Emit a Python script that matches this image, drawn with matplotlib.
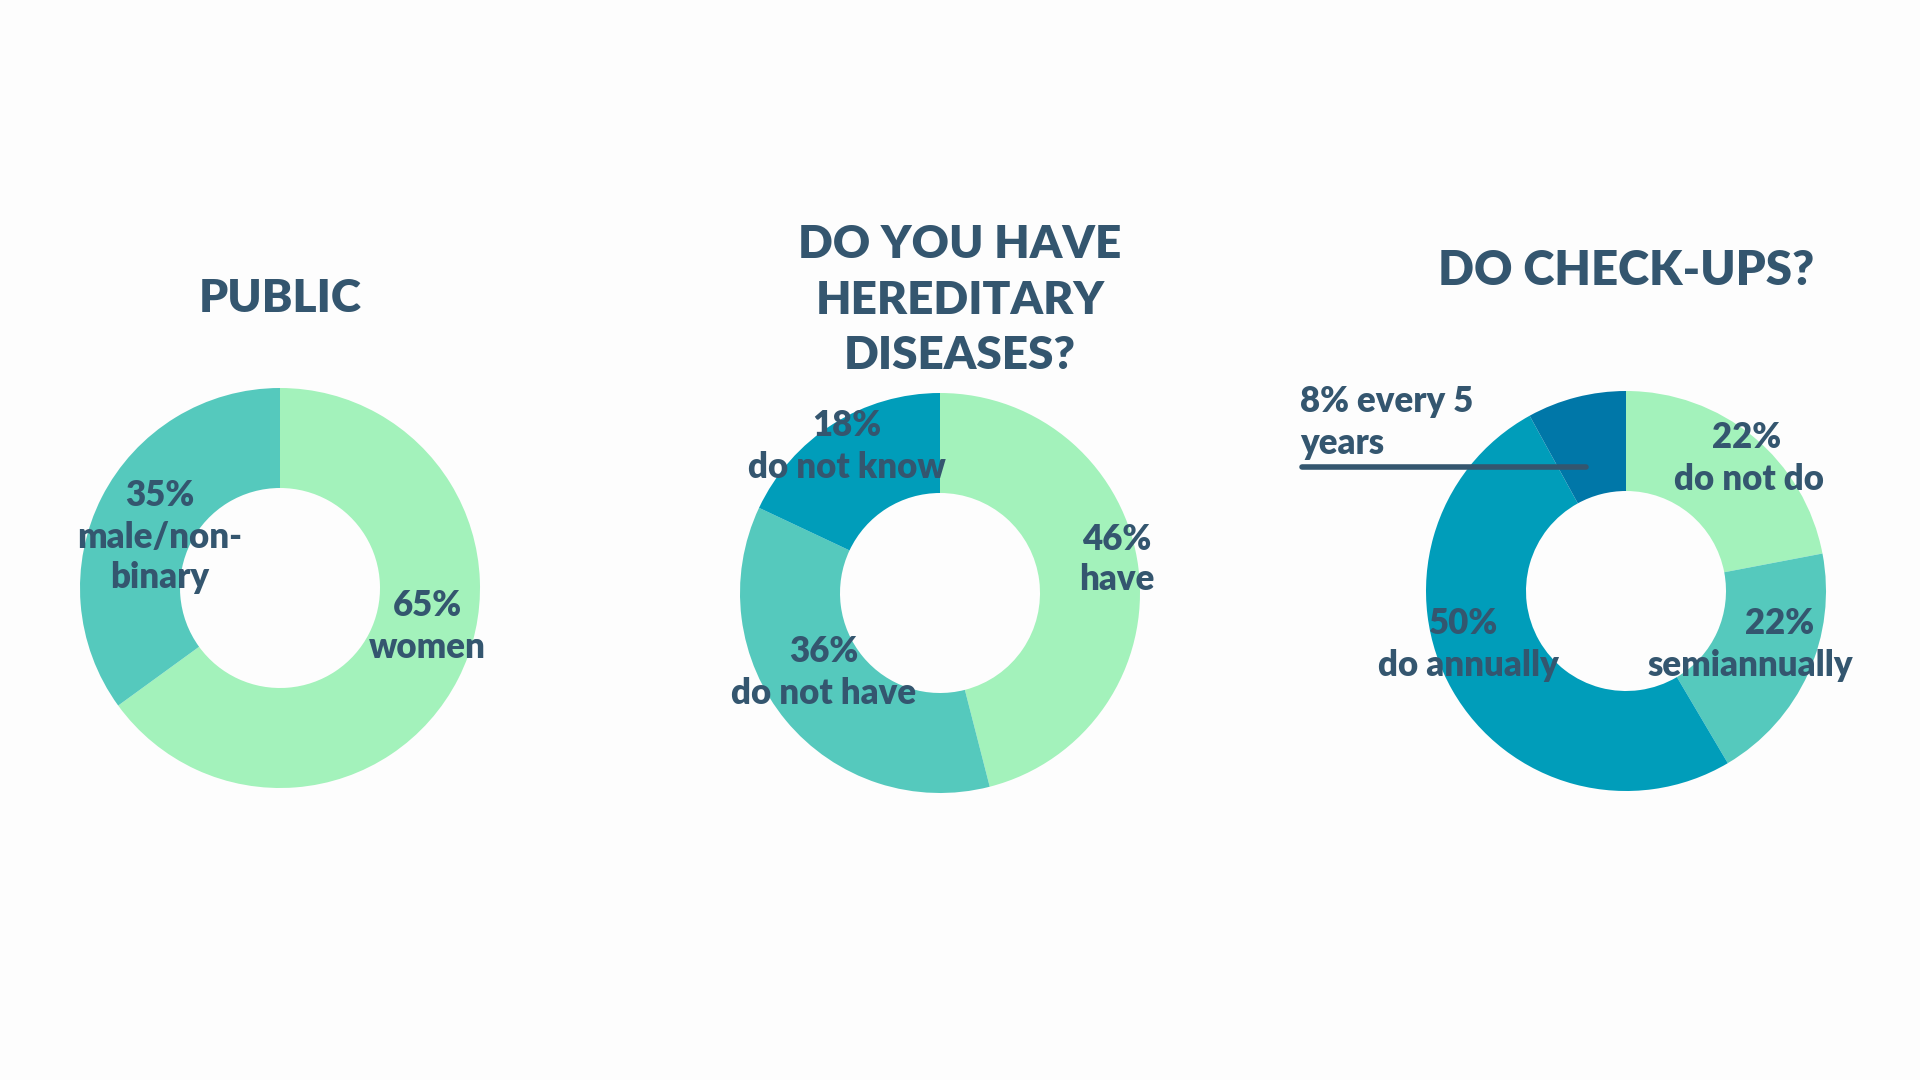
import matplotlib.pyplot as plt

# data
public_labels = ["women", "male/non-binary"]
public_values = [65, 35]

hereditary_labels = ["have", "do not have", "do not know"]
hereditary_values = [46, 36, 18]

checkup_labels = ["do not do", "semiannually", "do annually", "every 5 years"]
checkup_values = [22, 19.5, 50.5, 8]  # slice sizes as drawn
checkup_pct_text = ["22%", "22%", "50%", "8%"]

titles = ["PUBLIC", "DO YOU HAVE\nHEREDITARY\nDISEASES?", "DO CHECK-UPS?"]

GREEN = "#a3f2bb"
TEAL = "#55c9bd"
BLUE = "#009dba"
DARK_BLUE = "#0077a8"
TEXT = "#34566f"
BG = "#fdfdfd"

plt.rcParams['font.family'] = ['Lato', 'DejaVu Sans']

W, H = 1920, 1080
fig = plt.figure(figsize=(19.2, 10.8), dpi=100, facecolor=BG)
ax = fig.add_axes([0, 0, 1, 1])
ax.set_facecolor(BG)


def y(px):
    # picture rows -> data y
    return H - px


def donut(values, colors, cx, cy):
    ax.pie(values, colors=colors, startangle=90, counterclock=False,
           center=(cx, y(cy)), radius=200, frame=True,
           wedgeprops=dict(width=100, linewidth=0))


def label(x, py, s, size=25, ha='center'):
    ax.text(x, y(py), s, ha=ha, va='center', fontsize=size,
            fontweight='heavy', color=TEXT)


# PUBLIC
donut(public_values, [GREEN, TEAL], 280, 588)
ax.text(280, y(298), titles[0], ha='center', va='center', fontsize=33,
        fontweight='heavy', color=TEXT)
label(160, 495, "35%")
label(160, 538, "male/non-")
label(160, 578, "binary")
label(427, 605, "65%")
label(427, 647, public_labels[0])

# hereditary diseases
donut(hereditary_values, [GREEN, TEAL, BLUE], 940, 593)
ax.text(960, y(300), titles[1], ha='center', va='center', fontsize=33,
        fontweight='heavy', color=TEXT, linespacing=1.42)
label(847, 425, "%d%%" % hereditary_values[2])
label(847, 467, hereditary_labels[2])
label(1117, 539, "%d%%" % hereditary_values[0])
label(1117, 580, hereditary_labels[0])
label(824, 652, "%d%%" % hereditary_values[1])
label(824, 694, hereditary_labels[1])

# check-ups
donut(checkup_values, [GREEN, TEAL, BLUE, DARK_BLUE], 1626, 591)
ax.text(1626, y(271), titles[2], ha='center', va='center', fontsize=34,
        fontweight='heavy', color=TEXT)
label(1747, 437, checkup_pct_text[0])
label(1749, 479, checkup_labels[0])
label(1780, 623, checkup_pct_text[1])
label(1750, 666, checkup_labels[1])
label(1464, 623, checkup_pct_text[2])
label(1468, 666, checkup_labels[2])
label(1300, 402, "8% every 5", ha='left')
label(1300, 443, "years", ha='left')
ax.plot([1302, 1586], [y(467), y(467)], color=TEXT, linewidth=4,
        solid_capstyle='round')

ax.set_xlim(0, W)
ax.set_ylim(0, H)
ax.set_aspect('equal')
ax.axis('off')

fig.savefig("out.png", dpi=100, facecolor=BG)
